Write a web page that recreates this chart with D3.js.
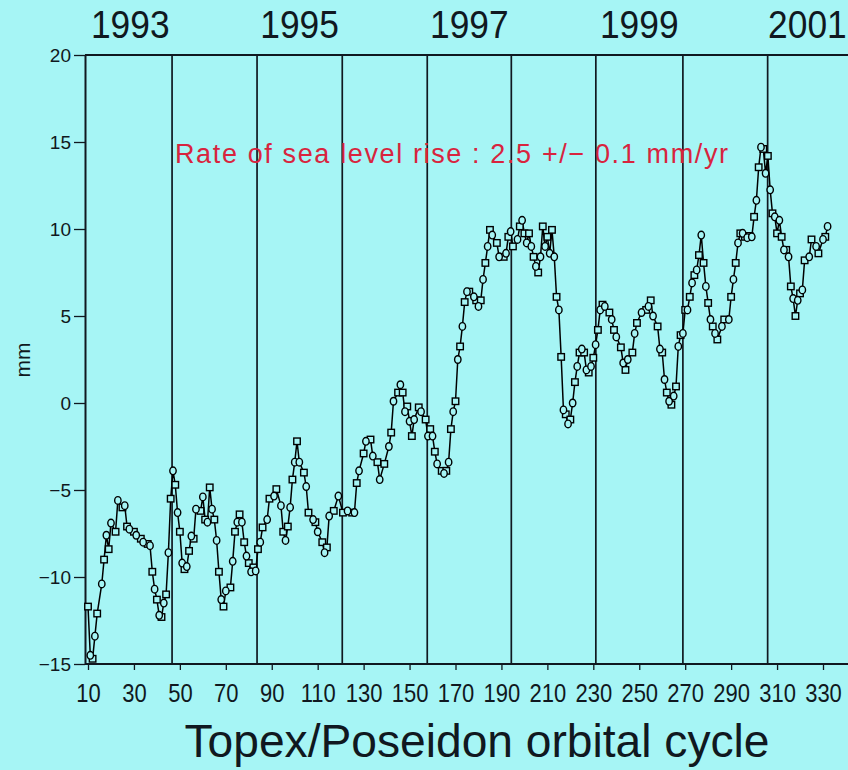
<!DOCTYPE html>
<html>
<head>
<meta charset="utf-8">
<script src="https://cdn.jsdelivr.net/npm/d3@7"></script>
<style>
  html, body { margin: 0; padding: 0; background: #a6f5f5; }
  svg { display: block; font-family: "Liberation Sans", Arial, sans-serif; }
</style>
</head>
<body>
<div id="chart"></div>
<script>
// Topex/Poseidon global mean sea level, one value per orbital cycle (mm)
const cycles = [
  10, 11, 12, 13, 14, 16, 17, 18, 19, 20, 22, 23, 25, 26, 27, 28, 30, 31, 33, 34,
  36, 37, 38, 39, 40, 41, 42, 43, 44, 45, 46, 47, 48, 49, 50, 51, 52, 53, 54, 55,
  56, 57, 59, 60, 61, 62, 63, 64, 65, 66, 67, 68, 69, 70, 72, 73, 74, 75, 76, 77,
  78, 79, 80, 81, 82, 83, 84, 85, 86, 88, 89, 91, 92, 94, 95, 96, 97, 98, 99, 100,
  101, 102, 104, 105, 106, 108, 109, 110, 112, 113, 114, 115, 117, 119, 121, 123, 125, 126, 127, 128,
  130, 131, 133, 134, 136, 137, 139, 141, 142, 143, 145, 146, 147, 148, 149, 150, 151, 152, 154, 155,
  157, 158, 159, 160, 161, 162, 164, 165, 166, 167, 168, 169, 170, 171, 172, 173, 174, 175, 176, 178,
  179, 180, 181, 182, 183, 184, 185, 186, 188, 189, 191, 192, 193, 194, 195, 197, 198, 199, 200, 201,
  202, 203, 204, 205, 206, 207, 208, 209, 210, 211, 212, 213, 214, 215, 216, 217, 218, 219, 220, 221,
  222, 223, 224, 225, 226, 227, 228, 229, 230, 231, 232, 233, 234, 235, 237, 238, 239, 240, 242, 243,
  244, 245, 247, 248, 249, 251, 253, 254, 255, 256, 258, 259, 260, 261, 262, 263, 264, 265, 266, 267,
  268, 269, 270, 271, 272, 273, 274, 275, 276, 277, 278, 279, 280, 281, 282, 283, 284, 286, 287, 289,
  290, 291, 292, 293, 294, 295, 296, 297, 298, 299, 300, 301, 302, 303, 304, 305, 306, 307, 308, 309,
  310, 311, 312, 313, 314, 315, 316, 317, 318, 319, 320, 321, 322, 324, 325, 327, 328, 330, 331, 332
];
const seaLevel = [
  -11.7, -14.5, -14.7, -13.4, -12.1, -10.4, -9.0, -7.6, -8.4, -6.9, -7.4, -5.6, -6.0, -5.9, -7.1, -7.25, -7.4, -7.6, -7.8, -8.0,
  -8.1, -8.2, -9.7, -10.7, -11.3, -12.2, -12.3, -11.5, -11.0, -8.6, -5.5, -3.9, -4.7, -6.3, -7.4, -9.2, -9.55, -9.4, -8.5, -7.65,
  -7.8, -6.1, -6.2, -5.4, -6.7, -6.85, -4.85, -6.1, -6.7, -7.9, -9.7, -11.3, -11.7, -10.8, -10.6, -9.1, -7.4, -6.85, -6.4, -6.85,
  -8.0, -8.8, -9.2, -9.7, -9.45, -9.65, -8.4, -8.0, -7.15, -6.7, -5.5, -5.35, -4.95, -5.9, -7.4, -7.9, -7.1, -6.0, -4.4, -3.4,
  -2.2, -3.4, -4.0, -4.8, -6.3, -6.7, -6.85, -7.4, -8.0, -8.6, -8.3, -6.5, -6.2, -5.35, -6.3, -6.2, -6.3, -6.3, -4.6, -3.9,
  -2.9, -2.2, -2.1, -3.05, -3.4, -4.4, -3.5, -2.5, -1.7, 0.1, 0.6, 1.05, 0.6, -0.5, -0.2, -1.05, -1.9, -0.95, -0.25, -0.5,
  -0.95, -1.9, -1.5, -1.9, -2.8, -3.5, -3.9, -4.05, -3.9, -3.4, -1.5, -0.5, 0.1, 2.5, 3.25, 4.4, 5.8, 6.4, 6.4, 6.1,
  5.9, 5.55, 5.9, 7.1, 8.05, 9.0, 9.95, 9.65, 9.2, 8.4, 8.4, 8.6, 9.55, 9.85, 9.0, 9.4, 10.15, 10.5, 9.75, 9.2,
  9.75, 9.0, 8.4, 7.85, 7.5, 8.4, 10.15, 9.0, 9.55, 8.6, 9.95, 8.4, 6.1, 5.35, 2.65, -0.4, -0.65, -1.2, -0.95, 0.0,
  1.2, 2.1, 2.9, 3.1, 2.9, 1.9, 1.75, 2.1, 2.6, 3.35, 4.2, 5.35, 5.65, 5.55, 5.2, 4.8, 4.2, 3.8, 3.2, 2.3,
  1.9, 2.5, 2.9, 4.0, 4.6, 5.2, 5.35, 5.55, 5.9, 5.0, 4.4, 3.1, 2.9, 1.35, 0.6, 0.1, -0.1, 0.4, 0.95, 3.25,
  3.9, 4.0, 5.35, 5.35, 6.1, 6.9, 7.35, 7.65, 8.5, 9.65, 8.05, 6.7, 5.75, 4.8, 4.4, 4.0, 3.65, 4.4, 4.8, 4.8,
  6.1, 7.1, 8.05, 9.2, 9.75, 9.75, 9.55, 9.5, 9.6, 9.55, 10.7, 11.65, 13.55, 14.7, 14.6, 13.2, 14.2, 12.25, 10.9, 10.7,
  9.75, 10.5, 9.55, 8.8, 8.8, 8.4, 6.7, 6.0, 5.0, 5.9, 6.3, 6.5, 8.2, 8.4, 9.4, 9.0, 8.6, 9.4, 9.55, 10.15
];

const xTicks = [10, 30, 50, 70, 90, 110, 130, 150, 170, 190, 210, 230, 250, 270, 290, 310, 330];
const yTicks = [-15, -10, -5, 0, 5, 10, 15, 20];
// year boundaries (1 Jan 1994 ... 1 Jan 2001) in cycle units
const yearLines = [46.6, 83.6, 120.7, 157.7, 194.3, 231.1, 269.0, 305.9];
const yearLabels = ["1993", "1995", "1997", "1999", "2001"];
const yearLabelCycles = [28.4, 102.1, 176.0, 250.0, 323.2];
const rateText = "Rate of sea level rise : 2.5 +/\u2212 0.1 mm/yr";

const W = 848, H = 770;
const bg = "#a6f5f5", ink = "#101820";

const x = d3.scaleLinear().domain([10, 330]).range([88, 823]);
const y = d3.scaleLinear().domain([-15, 20]).range([664, 55]);

const svg = d3.select("#chart").append("svg")
    .attr("width", W)
    .attr("height", H);

svg.append("rect").attr("width", W).attr("height", H).attr("fill", bg);

// year separators
svg.selectAll("line.year")
    .data(yearLines)
    .enter().append("line")
    .attr("class", "year")
    .attr("x1", d => x(d)).attr("x2", d => x(d))
    .attr("y1", y(20)).attr("y2", y(-15))
    .attr("stroke", ink)
    .attr("stroke-width", 1.7);

// frame top + bottom
svg.append("line")
    .attr("x1", 85).attr("x2", W)
    .attr("y1", y(20)).attr("y2", y(20))
    .attr("stroke", ink).attr("stroke-width", 2);
svg.append("line")
    .attr("x1", 85).attr("x2", W)
    .attr("y1", y(-15)).attr("y2", y(-15))
    .attr("stroke", ink).attr("stroke-width", 2);

// y axis
const yAxis = svg.append("g")
    .attr("transform", "translate(85,0)")
    .call(d3.axisLeft(y).tickValues(yTicks).tickSize(11).tickSizeOuter(0).tickPadding(3));
yAxis.select(".domain").attr("stroke", ink).attr("stroke-width", 2);
yAxis.selectAll(".tick line").attr("stroke", ink).attr("stroke-width", 1.3);
yAxis.selectAll(".tick text")
    .attr("fill", ink)
    .style("font-size", "19px")
    .attr("dy", "0.36em");

// x axis
const xAxis = svg.append("g")
    .attr("transform", `translate(0,${y(-15)})`)
    .call(d3.axisBottom(x).tickValues(xTicks).tickSize(6).tickSizeOuter(0));
xAxis.select(".domain").remove();
xAxis.selectAll(".tick line").attr("stroke", ink).attr("stroke-width", 1.3);
xAxis.selectAll(".tick text")
    .attr("fill", ink)
    .attr("y", 0).attr("dy", 0)
    .attr("transform", "translate(0,38) scale(0.88,1.05)")
    .style("font-size", "25px");

// year labels on top
svg.selectAll("text.yr")
    .data(yearLabels)
    .enter().append("text")
    .attr("class", "yr")
    .attr("transform", (d, i) => `translate(${x(yearLabelCycles[i])},38) scale(0.93,1.02)`)
    .attr("text-anchor", "middle")
    .attr("fill", ink)
    .style("font-size", "38px")
    .text(d => d);

// axis titles
svg.append("text")
    .attr("x", 477).attr("y", 757)
    .attr("text-anchor", "middle")
    .attr("textLength", 585)
    .attr("lengthAdjust", "spacingAndGlyphs")
    .attr("fill", ink)
    .style("font-size", "47px")
    .text("Topex/Poseidon orbital cycle");

svg.append("text")
    .attr("transform", "translate(30,360) rotate(-90)")
    .attr("text-anchor", "middle")
    .attr("fill", ink)
    .style("font-size", "21px")
    .text("mm");

// trend annotation
svg.append("text")
    .attr("x", 175).attr("y", 163)
    .attr("textLength", 553)
    .attr("lengthAdjust", "spacing")
    .attr("fill", "#d8243e")
    .style("font-size", "27px")
    .text(rateText);

// series
const pts = cycles.map((c, i) => ({ c: c, v: seaLevel[i], i: i }));

svg.append("path")
    .datum(pts)
    .attr("fill", "none")
    .attr("stroke", "#000")
    .attr("stroke-width", 1.5)
    .attr("d", d3.line().x(d => x(d.c)).y(d => y(d.v)));

const sq = 6.5;
svg.selectAll("rect.pt")
    .data(pts.filter(d => d.i % 2 === 0))
    .enter().append("rect")
    .attr("class", "pt")
    .attr("x", d => x(d.c) - sq / 2)
    .attr("y", d => y(d.v) - sq / 2)
    .attr("width", sq).attr("height", sq)
    .attr("fill", bg)
    .attr("stroke", "#000")
    .attr("stroke-width", 1.4);

svg.selectAll("ellipse.pt")
    .data(pts.filter(d => d.i % 2 === 1))
    .enter().append("ellipse")
    .attr("class", "pt")
    .attr("cx", d => x(d.c))
    .attr("cy", d => y(d.v))
    .attr("rx", 3.2).attr("ry", 3.8)
    .attr("fill", bg)
    .attr("stroke", "#000")
    .attr("stroke-width", 1.4);
</script>
</body>
</html>
